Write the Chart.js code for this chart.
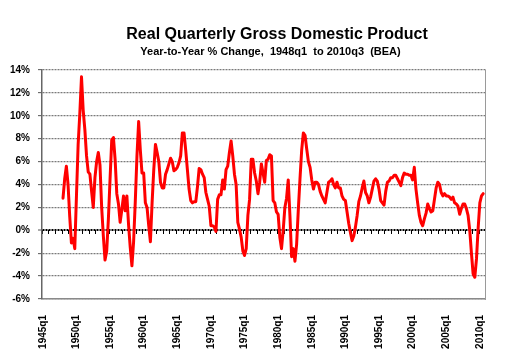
<!DOCTYPE html>
<html>
<head>
<meta charset="utf-8">
<script src="https://cdn.jsdelivr.net/npm/chart.js@4.4.1/dist/chart.umd.min.js"></script>
<style>
html,body{margin:0;padding:0;background:#fff;}
#wrap{position:relative;width:508px;height:357px;overflow:hidden;background:#fff;}
#title{position:absolute;left:0;top:26px;width:554px;text-align:center;font:bold 16px "Liberation Sans",Arial,sans-serif;line-height:16px;color:#000;white-space:nowrap;}
#subtitle{position:absolute;left:0;top:46px;width:541px;text-align:center;font:bold 11px "Liberation Sans",Arial,sans-serif;line-height:11px;color:#000;white-space:pre;}
canvas{position:absolute;left:0;top:0;}
</style>
</head>
<body>
<div id="wrap">
<canvas id="c" width="508" height="357"></canvas>
<div id="title">Real Quarterly Gross Domestic Product</div>
<div id="subtitle">Year-to-Year % Change,  1948q1  to 2010q3  (BEA)</div>
</div>
<script>
// ---- data (year-over-year % change of real GDP, quarterly, 1948q1..2010q3) ----
const firstYear = 1945;
const lastYear = 2010;
const seriesStart = '1948q1';
const gdp1940s = [2.8, 4.5, 5.6, 4.0,  1.2, -1.1, -0.7, -1.6];
const gdp1950s = [3.0, 7.5, 10.2, 13.4,  10.5, 8.8, 6.5, 5.1,  4.9, 3.4, 2.0, 4.6,  6.0, 6.8, 5.7, 2.0,
                  -0.5, -2.6, -1.8, 1.0,  4.5, 7.9, 8.1, 6.2,  3.2, 2.3, 0.7, 1.8,  3.0, 1.7, 3.0, 0.5,
                  -1.5, -3.1, -1.0, 2.5,  6.5, 9.5, 7.0, 5.0];
const gdp1960s = [5.0, 2.4, 2.0, 0.4,  -1.0, 2.4, 5.3, 7.5,  6.8, 6.0, 4.2, 3.7,  3.7, 4.9, 5.3, 5.8,
                  6.3, 6.0, 5.2, 5.3,  5.5, 5.9, 6.5, 8.5,  8.5, 7.0, 5.3, 3.6,  2.6, 2.4, 2.5, 2.5,
                  3.8, 5.4, 5.3, 4.9,  4.6, 3.3, 2.7, 2.1];
const gdp1970s = [0.4, 0.4, 0.3, -0.1,  2.7, 3.1, 3.1, 4.4,  3.6, 5.3, 5.6, 6.8,  7.8, 6.5, 4.9, 4.0,
                  0.7, 0.1, -0.6, -1.8,  -2.2, -1.6, 1.3, 2.7,  6.2, 6.2, 5.0, 4.3,  3.2, 4.2, 5.8, 5.0,
                  4.2, 6.1, 6.2, 6.6,  6.5, 2.6, 2.4, 1.6];
const gdp1980s = [1.4, -0.6, -1.6, 0.0,  2.0, 2.8, 4.4, 1.3,  -2.3, -1.6, -2.7, -1.2,  1.8, 4.5, 7.0, 8.5,
                  8.3, 7.1, 6.0, 5.5,  4.4, 3.6, 4.2, 4.2,  4.0, 3.4, 3.0, 2.7,  2.4, 3.3, 4.2, 4.3,
                  4.5, 4.0, 3.7, 4.2,  3.7, 3.7, 3.0, 2.7];
const gdp1990s = [2.6, 1.6, 0.6, -0.2,  -0.9, -0.5, 0.3, 1.3,  2.5, 3.0, 3.7, 4.3,  3.3, 3.0, 2.4, 2.9,
                  3.6, 4.3, 4.5, 4.3,  3.6, 2.6, 2.4, 2.2,  3.4, 4.2, 4.3, 4.6,  4.6, 4.8, 4.8, 4.5,
                  4.2, 3.9, 4.6, 5.0,  4.9, 4.9, 4.8, 4.8];
const gdp2000s = [4.4, 5.5, 3.6, 2.4,  1.3, 0.7, 0.4, 1.0,  1.5, 2.3, 1.9, 1.6,  1.7, 2.7, 3.7, 4.2,
                  4.0, 3.3, 3.0, 3.2,  3.0, 3.0, 2.9, 2.7,  2.9, 2.4, 2.3, 2.1,  1.4, 1.9, 2.3, 2.3,
                  1.9, 1.3, 0.0, -2.0,  -3.8, -4.1, -2.5, 0.2];
const gdp2010s = [2.4, 3.0, 3.2];
const tickLabels = ['1945q1','1950q1','1955q1','1960q1','1965q1','1970q1','1975q1',
                    '1980q1','1985q1','1990q1','1995q1','2000q1','2005q1','2010q1'];

// ---- build category list and aligned series ----
const quarters = [];
for (let y = firstYear; y <= lastYear; y++) for (let q = 1; q <= 4; q++) quarters.push(y + 'q' + q);
const gdpYoY = [].concat(gdp1940s, gdp1950s, gdp1960s, gdp1970s, gdp1980s, gdp1990s, gdp2000s, gdp2010s);
const startIdx = quarters.indexOf(seriesStart);
const series = quarters.map((_, i) => {
  const k = i - startIdx;
  return (k >= 0 && k < gdpYoY.length) ? gdpYoY[k] : null;
});

const FONT = '"Liberation Sans", Arial, sans-serif';

new Chart(document.getElementById('c'), {
  type: 'line',
  data: {
    labels: quarters,
    datasets: [{
      data: series,
      xAxisID: 'x',
      yAxisID: 'y',
      borderColor: '#ff0000',
      borderWidth: 3,
      pointRadius: 0,
      tension: 0,
      borderJoinStyle: 'round',
      borderCapStyle: 'round',
      spanGaps: false
    }]
  },
  options: {
    responsive: false,
    animation: false,
    devicePixelRatio: 1,
    layout: { padding: { top: 70, right: 12, left: 0, bottom: 0 } },
    plugins: { legend: { display: false }, tooltip: { enabled: false }, title: { display: false } },
    scales: {
      x: {
        type: 'category',
        position: 'bottom',
        offset: true,
        grid: { display: false, drawTicks: false },
        border: { display: true, color: '#8a8a8a', width: 1.5 },
        ticks: {
          autoSkip: false,
          minRotation: 90,
          maxRotation: 90,
          padding: 16,
          color: '#000',
          font: { family: FONT, size: 10, weight: 'bold' },
          callback: function (v) {
            const l = this.getLabelForValue(v);
            return tickLabels.includes(l) ? l : null;
          }
        },
        afterFit: s => { s.height = 58; }
      },
      x0: {
        type: 'category',
        labels: quarters,
        position: { y: 0 },
        offset: true,
        grid: {
          drawOnChartArea: false,
          drawTicks: true,
          offset: true,
          tickLength: 4,
          tickWidth: 1,
          tickColor: ctx => (ctx.index % 4 === 0 ? '#000' : 'rgba(0,0,0,0)')
        },
        border: { display: false },
        ticks: { display: false, autoSkip: false }
      },
      y: {
        type: 'linear',
        position: 'left',
        min: -6,
        max: 14,
        grid: {
          color: ctx => (ctx.tick && ctx.tick.value === 0 ? '#000' : '#7a7a7a'),
          lineWidth: ctx => (ctx.tick && ctx.tick.value === 0 ? 2 : 1.3),
          drawTicks: true,
          tickLength: 4,
          tickColor: '#555',
          tickWidth: 1
        },
        border: { display: true, color: '#666', width: 1.5, dash: [2, 1] },
        ticks: {
          stepSize: 2,
          padding: 8,
          color: '#000',
          font: { family: FONT, size: 10, weight: 'bold' },
          callback: v => v + '%'
        },
        afterFit: s => { s.width = 42; }
      },
      yR: {
        type: 'linear',
        position: 'right',
        min: -6,
        max: 14,
        grid: { drawOnChartArea: false, drawTicks: false },
        border: { display: true, color: '#9a9a9a', width: 1 },
        ticks: { display: false },
        afterFit: s => { s.width = 0; }
      }
    }
  }
});
</script>
</body>
</html>
